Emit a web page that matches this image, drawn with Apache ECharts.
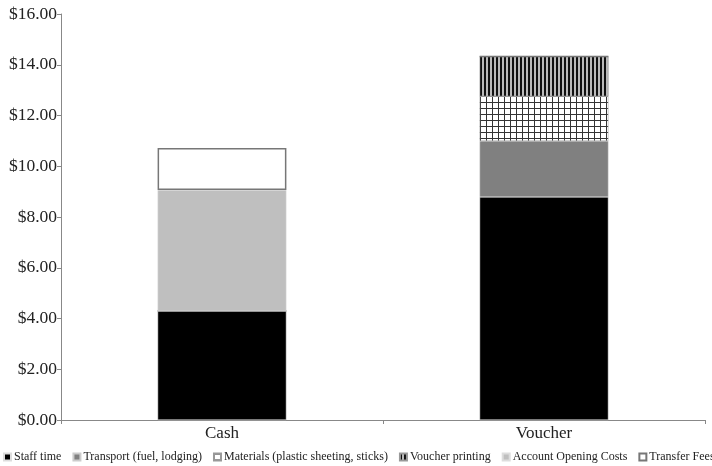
<!DOCTYPE html>
<html><head><meta charset="utf-8">
<script src="https://cdn.jsdelivr.net/npm/echarts@6/dist/echarts.min.js"></script>
<style>html,body{margin:0;padding:0;background:#fff}#c{width:712px;height:466px}</style>
</head><body><div id="c"></div>
<script>
var categories = ['Cash', 'Voucher'];
var staffTime = [4.30, 8.79];
var transport = [0, 2.21];
var materials = [0, 1.76];
var voucherPrinting = [0, 1.57];
var accountOpening = [4.76, 0];
var transferFees = [1.66, 0];
var yTicks = [0, 2, 4, 6, 8, 10, 12, 14, 16];

function gridPattern() {
  var c = document.createElement('canvas'); c.width = 6; c.height = 6;
  var g = c.getContext('2d');
  g.fillStyle = '#fff'; g.fillRect(0, 0, 6, 6);
  g.fillStyle = '#333'; g.fillRect(0, 0, 1, 6); g.fillRect(0, 0, 6, 1);
  return c;
}
function vlinePattern() {
  var c = document.createElement('canvas'); c.width = 4; c.height = 4;
  var g = c.getContext('2d');
  g.fillStyle = '#bbb'; g.fillRect(0, 0, 4, 4);
  g.fillStyle = '#111'; g.fillRect(0, 0, 2, 4);
  return c;
}
var gridImg = gridPattern(), vImg = vlinePattern();

function ser(name, data, style) {
  return { name: name, type: 'bar', stack: 'total', data: data, barWidth: '40%',
    itemStyle: style, emphasis: { disabled: true } };
}
var chart = echarts.init(document.getElementById('c'), null, { renderer: 'canvas' });
chart.setOption({
  animation: false,
  textStyle: { fontFamily: 'Liberation Serif' },
  grid: { left: 61, right: 7, top: 14, bottom: 46 },
  legend: {
    top: 451, left: 3, width: 900, padding: 0, itemWidth: 7, itemHeight: 7, itemGap: 11,
    textStyle: { fontFamily: 'Liberation Serif', fontSize: 12, color: '#222', padding: [0, 0, 0, -2] },
    data: [
      { name: 'Staff time', icon: 'rect' },
      { name: 'Transport (fuel, lodging)', icon: 'rect' },
      { name: 'Materials (plastic sheeting, sticks)', icon: 'rect' },
      { name: 'Voucher printing', icon: 'rect' },
      { name: 'Account Opening Costs', icon: 'rect' },
      { name: 'Transfer Fees', icon: 'rect' }
    ]
  },
  xAxis: {
    type: 'category', data: categories,
    axisLine: { lineStyle: { color: '#888' } },
    axisTick: { show: true, length: 4, lineStyle: { color: '#888' } },
    axisLabel: { fontFamily: 'Liberation Serif', fontSize: 17, color: '#222', margin: 5 }
  },
  yAxis: {
    type: 'value', min: 0, max: 16, interval: 2,
    axisLine: { show: true, lineStyle: { color: '#888' } },
    axisTick: { show: true, length: 4, lineStyle: { color: '#888' } },
    splitLine: { show: false },
    axisLabel: { fontFamily: 'Liberation Serif', fontSize: 17.5, color: '#222', margin: 4,
      formatter: function (v) { return '$' + v.toFixed(2); } }
  },
  series: [
    ser('Staff time', staffTime, { color: '#000', borderColor: '#ddd', borderWidth: 0.5 }),
    ser('Transport (fuel, lodging)', transport, { color: '#808080', borderColor: '#ccc', borderWidth: 0.5 }),
    ser('Materials (plastic sheeting, sticks)', materials, { color: { image: gridImg, repeat: 'repeat' }, borderColor: '#999', borderWidth: 0.5 }),
    ser('Voucher printing', voucherPrinting, { color: { image: vImg, repeat: 'repeat' }, borderColor: '#999', borderWidth: 0.5 }),
    ser('Account Opening Costs', accountOpening, { color: '#bfbfbf', borderColor: '#ddd', borderWidth: 0.5 }),
    ser('Transfer Fees', transferFees, { color: '#fff', borderColor: '#777', borderWidth: 1.5 })
  ]
});
</script></body></html>
